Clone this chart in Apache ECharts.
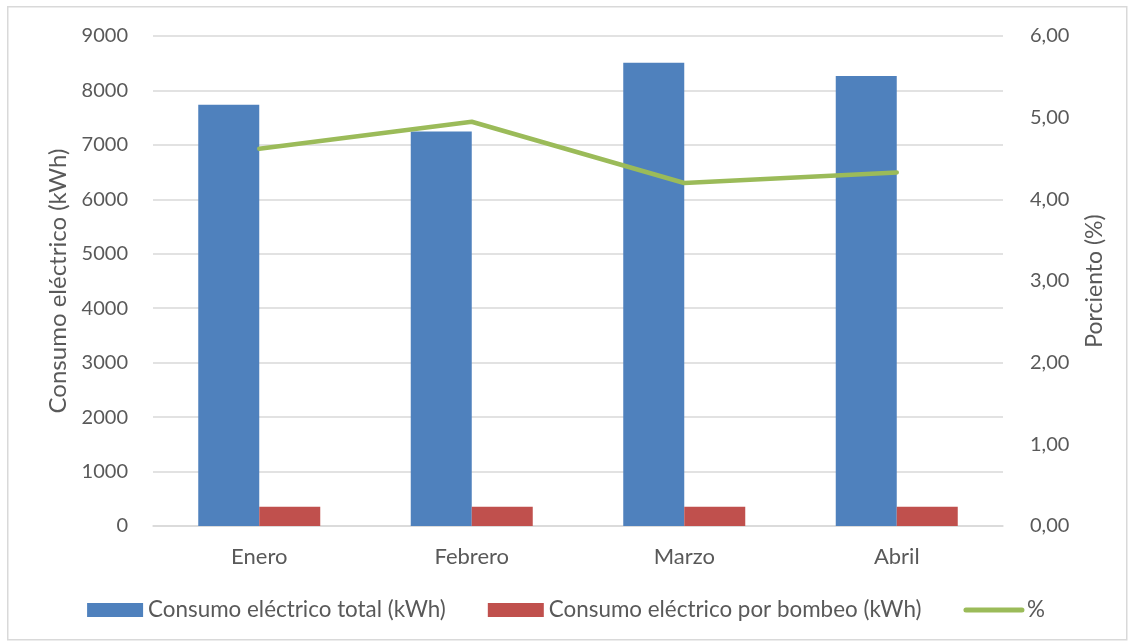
<!DOCTYPE html>
<html>
<head>
<meta charset="utf-8">
<script src="https://cdn.jsdelivr.net/npm/echarts@6/dist/echarts.min.js"></script>
<style>
html,body{margin:0;padding:0;background:#fff;}
#main{width:1132px;height:643px;}
</style>
</head>
<body>
<div id="main"></div>
<script>
const categories = ['Enero', 'Febrero', 'Marzo', 'Abril'];
const totalKWh = [7735, 7245, 8510, 8265];
const bombeoKWh = [355, 355, 355, 355];
const percent = [4.62, 4.95, 4.20, 4.33];
const leftTicks = { min: 0, max: 9000, interval: 1000 };
const rightTicks = { min: 0, max: 6, interval: 1 };
const seriesNames = ['Consumo eléctrico total (kWh)', 'Consumo eléctrico por bombeo (kWh)', '%'];

const FONT = 'Lato';
const TXT = '#595959';
const chart = echarts.init(document.getElementById('main'), null, { renderer: 'canvas' });
chart.setOption({
  animation: false,
  backgroundColor: '#ffffff',
  textStyle: { fontFamily: FONT },
  graphic: [{
    type: 'rect', left: 7, top: 6, z: -1,
    shape: { width: 1119, height: 633 },
    style: { fill: '#ffffff', stroke: '#d9d9d9', lineWidth: 1.5 }
  }],
  grid: { left: 153, right: 129, top: 36, bottom: 117 },
  legend: {
    bottom: 17, left: 'center',
    itemWidth: 56, itemHeight: 14, itemGap: 42,
    textStyle: { fontFamily: FONT, fontSize: 22.4, color: TXT },
    data: [
      { name: seriesNames[0], icon: 'rect' },
      { name: seriesNames[1], icon: 'rect' },
      { name: seriesNames[2], itemStyle: { opacity: 0 }, lineStyle: { width: 5, color: '#9bbb59', cap: 'round' } }
    ]
  },
  xAxis: {
    type: 'category', data: categories,
    axisLine: { lineStyle: { color: '#d9d9d9', width: 1.5 } },
    axisTick: { show: false },
    axisLabel: { color: TXT, fontSize: 22, margin: 20, fontFamily: FONT }
  },
  yAxis: [{
    type: 'value', min: leftTicks.min, max: leftTicks.max, interval: leftTicks.interval,
    name: 'Consumo eléctrico (kWh)', nameLocation: 'middle', nameGap: 82,
    nameTextStyle: { color: TXT, fontSize: 24, fontFamily: FONT },
    axisLine: { show: false }, axisTick: { show: false },
    axisLabel: { color: TXT, fontSize: 20, margin: 25, fontFamily: FONT,
      formatter: v => String(v) },
    splitLine: { lineStyle: { color: '#d9d9d9', width: 1.5 } }
  }, {
    type: 'value', min: rightTicks.min, max: rightTicks.max, interval: rightTicks.interval,
    name: 'Porciento (%)', nameLocation: 'middle', nameGap: 80,
    nameRotate: 90,
    nameTextStyle: { color: TXT, fontSize: 23, fontFamily: FONT },
    axisLine: { show: false }, axisTick: { show: false },
    axisLabel: { color: TXT, fontSize: 20, margin: 27, fontFamily: FONT,
      formatter: v => v.toFixed(2).replace('.', ',') },
    splitLine: { show: false }
  }],
  series: [{
    name: seriesNames[0], type: 'bar', data: totalKWh, yAxisIndex: 0,
    barWidth: 61, barGap: '0%',
    itemStyle: { color: '#4f81bd' }
  }, {
    name: seriesNames[1], type: 'bar', data: bombeoKWh, yAxisIndex: 0,
    barWidth: 61, barGap: '0%',
    itemStyle: { color: '#c0504d' }
  }, {
    name: seriesNames[2], type: 'line', data: percent, yAxisIndex: 1,
    symbol: 'none', lineStyle: { color: '#9bbb59', width: 4.5, cap: 'round' },
    itemStyle: { color: '#9bbb59' }, z: 5
  }]
});
</script>
</body>
</html>
